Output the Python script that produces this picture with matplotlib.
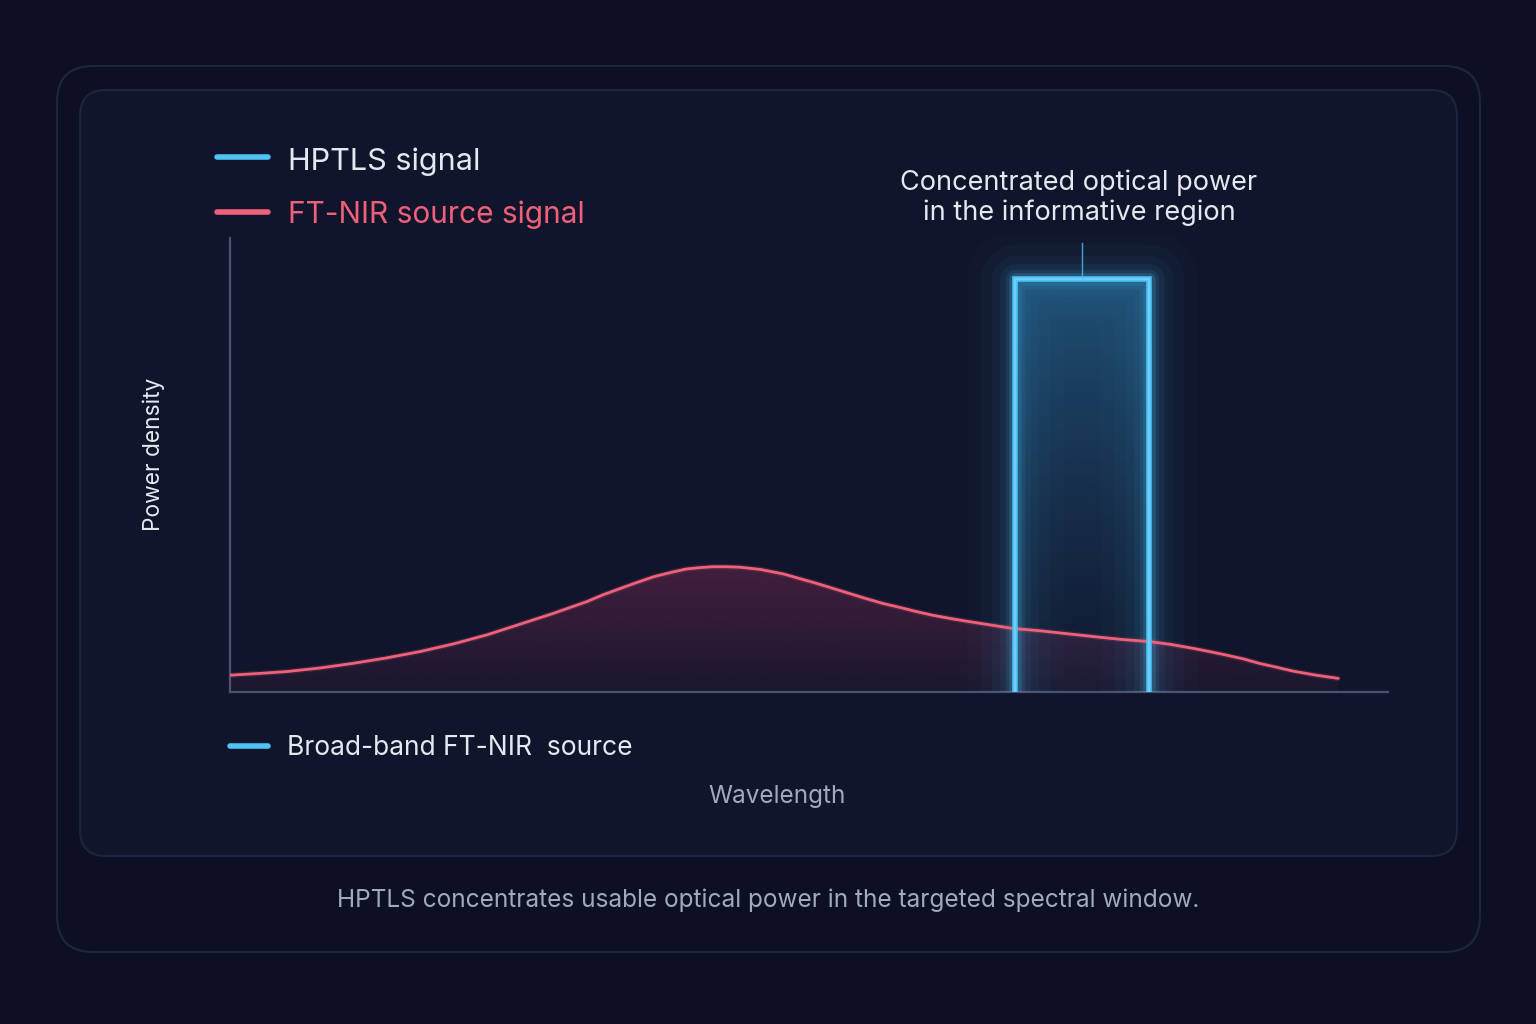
import numpy as np
import matplotlib
matplotlib.use("Agg")
import matplotlib.pyplot as plt
from matplotlib.patches import FancyBboxPatch, Polygon
from matplotlib.colors import to_rgb

# ---------------- data ----------------
wl_ftnir = [0.0, 2.6, 4.9, 7.8, 10.6, 13.5, 16.4, 19.3, 22.2, 25.0, 27.9, 30.8, 32.2,
            33.7, 35.1, 36.6, 38.0, 39.4, 40.6, 41.7, 42.8, 44.0, 45.8, 47.8,
            50.7, 52.1, 53.5, 54.9, 56.4, 57.9, 59.3, 60.7, 62.2, 63.6, 65.1, 67.6,
            69.9, 74.6, 76.9, 79.4, 81.2, 83.2, 84.6, 86.1, 87.5, 88.9, 90.3, 91.8,
            93.8, 95.7]
pd_ftnir = [3.7, 4.1, 4.5, 5.3, 6.3, 7.5, 8.9, 10.6, 12.6, 14.9, 17.3, 19.9, 21.4,
            22.8, 24.1, 25.4, 26.3, 27.1, 27.4, 27.6, 27.6, 27.5, 27.0, 26.0,
            23.9, 22.8, 21.7, 20.6, 19.5, 18.6, 17.7, 16.9, 16.2, 15.6, 15.0, 14.0,
            13.5, 12.2, 11.6, 11.1, 10.5, 9.6, 8.9, 8.1, 7.3, 6.3, 5.5, 4.6,
            3.7, 3.0]
hptls_band = [67.8, 79.4]      # wavelength window (start, end)
hptls_level = 91.0             # power density of HPTLS window
annot_top = 99.0

legend_labels = ["HPTLS signal", "FT-NIR source signal"]
bottom_label = "Broad-band FT-NIR  source"
annot_text = "Concentrated optical power\nin the informative region"
xlabel = "Wavelength"
ylabel = "Power density"
caption = "HPTLS concentrates usable optical power in the targeted spectral window."

# ---------------- style ----------------
BG = "#0d1024"
PANEL = "#10152b"
BLUE = "#4fc3f7"
RED = "#f0607a"
WHITE = "#e6e8f0"
GREY = "#a3a8c0"
FONT = ["Inter", "DejaVu Sans"]
plt.rcParams["font.family"] = FONT

W, H = 1536, 1024
fig = plt.figure(figsize=(W / 100, H / 100), dpi=100)
fig.patch.set_facecolor(BG)

bg = fig.add_axes([0, 0, 1, 1])
bg.set_xlim(0, W)
bg.set_ylim(H, 0)
bg.axis("off")
bg.set_zorder(0)

# outer card and inner panel
bg.add_patch(FancyBboxPatch((57, 66), 1423, 886, boxstyle="round,pad=0,rounding_size=36",
                            fc=BG, ec="#20243d", lw=1.5))
bg.add_patch(FancyBboxPatch((80, 90), 1377, 766, boxstyle="round,pad=0,rounding_size=26",
                            fc=PANEL, ec="#1d2340", lw=1.5))

# legends
bg.plot([217, 268], [157, 157], color=BLUE, lw=4, solid_capstyle="round")
bg.text(288, 162, legend_labels[0], color=WHITE, fontsize=22, va="center", ha="left")
bg.plot([217, 268], [212, 212], color=RED, lw=4, solid_capstyle="round")
bg.text(288, 215, legend_labels[1], color=RED, fontsize=21.5, va="center", ha="left")

bg.plot([230, 268], [746, 746], color=BLUE, lw=4, solid_capstyle="round")
bg.text(287, 748, bottom_label, color=WHITE, fontsize=19, va="center", ha="left")

bg.text(1079, 198, annot_text, color=WHITE, fontsize=19.5, va="center", ha="center",
        linespacing=1.15)
bg.text(777, 796, xlabel, color=GREY, fontsize=17.5, va="center", ha="center")
bg.text(154, 454, ylabel, color=WHITE, fontsize=16.4, va="center", ha="center", rotation=90)
bg.text(768, 900, caption, color=GREY, fontsize=17.6, va="center", ha="center")

# ---------------- main chart ----------------
ax_l, ax_r, ax_t, ax_b = 230, 1388, 238, 692
ax = fig.add_axes([ax_l / W, 1 - ax_b / H, (ax_r - ax_l) / W, (ax_b - ax_t) / H])
ax.set_zorder(1)
ax.patch.set_alpha(0)
ax.set_xlim(0, 100)
ax.set_ylim(0, 100)
ax.set_xticks([])
ax.set_yticks([])
for s in ["top", "right"]:
    ax.spines[s].set_visible(False)
for s in ["left", "bottom"]:
    ax.spines[s].set_color("#4a5272")
    ax.spines[s].set_linewidth(1.6)

x = np.array(wl_ftnir)
y = np.array(pd_ftnir)

# red gradient fill under curve
poly = Polygon(np.column_stack([np.r_[x, x[-1], x[0]], np.r_[y, 0, 0]]),
               closed=True, fc="none", ec="none")
ax.add_patch(poly)
grad = np.linspace(0, 1, 256)[:, None]
rc = to_rgb("#7a2a52")
img = np.zeros((256, 2, 4))
img[..., 0], img[..., 1], img[..., 2] = rc
img[..., 3] = (0.10 + 0.40 * (grad / 0.3).clip(0, 1)) * np.ones((1, 2))
im = ax.imshow(img, extent=[0, 100, 0, 100], origin="lower", aspect="auto", zorder=2,
               interpolation="bilinear")
im.set_clip_path(poly)

# HPTLS window: glow halo
x0, x1 = hptls_band
bx = [x0, x0, x1, x1]
by = [0, hptls_level, hptls_level, 0]
for lw, a in [(70, 0.02), (50, 0.03), (34, 0.04), (22, 0.06), (14, 0.10), (9, 0.18)]:
    ax.plot(bx, by, color=BLUE, lw=lw, alpha=a, solid_joinstyle="round", zorder=3,
            solid_capstyle="butt")

# inner gradient of window
bc = to_rgb("#2a78a8")
img2 = np.zeros((256, 2, 4))
img2[..., 0], img2[..., 1], img2[..., 2] = bc
g2 = np.linspace(0, 1, 256)[:, None]
img2[..., 3] = (0.05 + 0.55 * g2 ** 1.3) * np.ones((1, 2))
ax.imshow(img2, extent=[x0, x1, 0, hptls_level], origin="lower", aspect="auto", zorder=3,
          interpolation="bilinear")

# red curve
ax.plot(x, y, color=RED, lw=4, alpha=0.15, zorder=4, solid_capstyle="round")
ax.plot(x, y, color=RED, lw=2.0, zorder=4, solid_capstyle="round", solid_joinstyle="round")

# window outline
ax.plot(bx, by, color=BLUE, lw=4, zorder=5, solid_joinstyle="miter", solid_capstyle="butt")
ax.plot(bx, by, color="#8fdcff", lw=1.2, alpha=0.6, zorder=5, solid_joinstyle="miter")

# annotation tick
xm = (x0 + x1) / 2
ax.plot([xm, xm], [hptls_level, annot_top], color=BLUE, lw=1, alpha=0.8, zorder=5)

ax.set_xlim(0, 100)
ax.set_ylim(0, 100)

fig.savefig("out.png", dpi=100, facecolor=BG)
